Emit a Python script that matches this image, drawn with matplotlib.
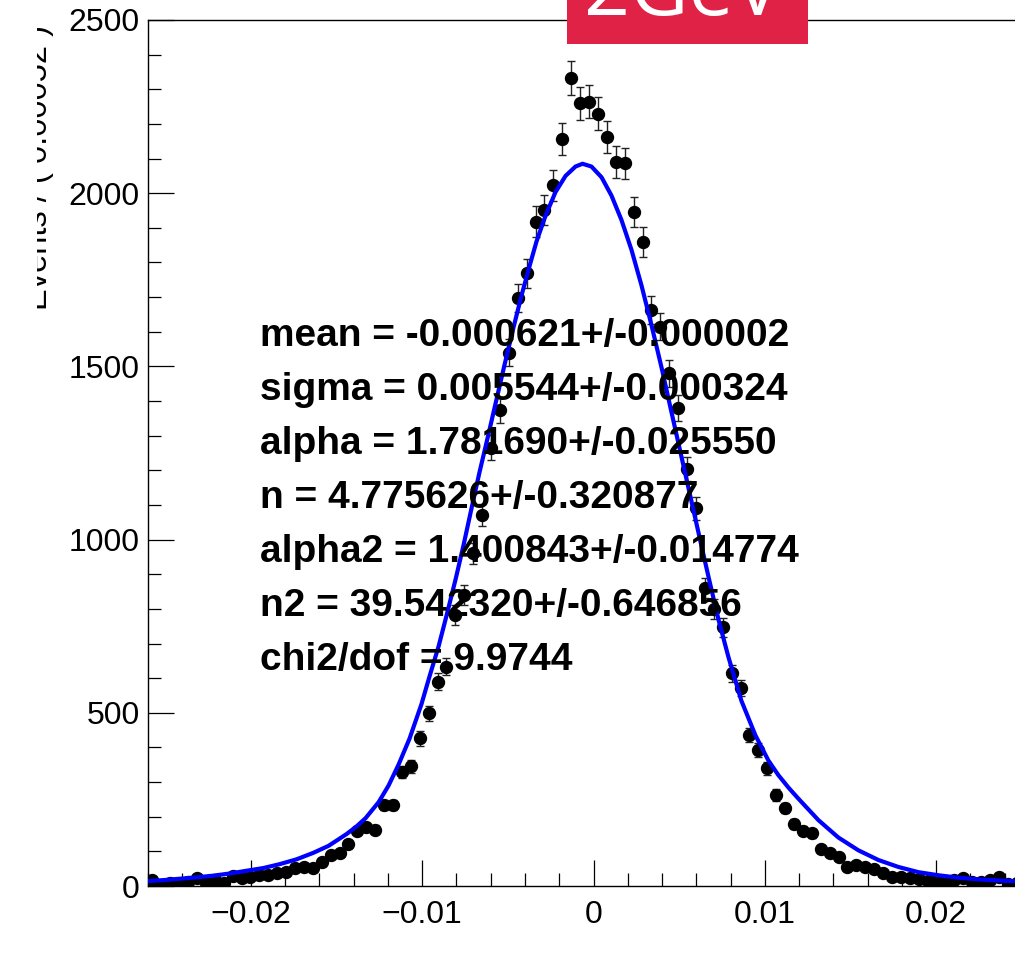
import numpy as np
import matplotlib.pyplot as plt
from matplotlib.patches import Rectangle
from matplotlib.ticker import MultipleLocator

plt.rcParams['font.family'] = ['Liberation Sans', 'DejaVu Sans']

# histogram: 100 bins over [-0.026, 0.026]
x_min, x_max, n_bins = -0.026, 0.026, 100
counts = [17, 3, 9, 5, 12, 23, 9, 17, 9, 29,
          23, 27, 31, 31, 37, 40, 52, 56, 52, 70,
          89, 95, 121, 160, 170, 162, 234, 234, 329, 345,
          426, 498, 590, 633, 782, 840, 960, 1071, 1265, 1374,
          1540, 1697, 1769, 1918, 1951, 2023, 2157, 2332, 2259, 2264,
          2230, 2163, 2091, 2086, 1946, 1860, 1663, 1615, 1480, 1379,
          1203, 1090, 860, 800, 747, 614, 571, 436, 393, 340,
          263, 226, 179, 160, 152, 106, 94, 85, 56, 61,
          56, 48, 38, 27, 25, 22, 19, 15, 16, 8,
          16, 22, 12, 12, 16, 25, 6, 10, 8, 5]

# fit curve
curve_x = [-0.02608, -0.02509, -0.02415, -0.02316, -0.02217, -0.02124, -0.02025, -0.01925,
           -0.01832, -0.01733, -0.01634, -0.01546, -0.01441, -0.01383, -0.01330, -0.01254,
           -0.01196, -0.01138, -0.01074, -0.01004, -0.00957, -0.00904, -0.00858, -0.00805,
           -0.00758, -0.00712, -0.00665, -0.00613, -0.00566, -0.00519, -0.00467, -0.00420,
           -0.00373, -0.00333, -0.00280, -0.00222, -0.00163, -0.00105, -0.00064, -0.00012,
           0.00047, 0.00105, 0.00163, 0.00222, 0.00280, 0.00338, 0.00397, 0.00455,
           0.00513, 0.00572, 0.00630, 0.00677, 0.00729, 0.00788, 0.00863, 0.00945,
           0.01021, 0.01079, 0.01138, 0.01196, 0.01313, 0.01429, 0.01546, 0.01663,
           0.01779, 0.01896, 0.02013, 0.02130, 0.02246, 0.02363, 0.02450, 0.02600]
curve_y = [14, 17, 21, 25, 30, 36, 44, 52,
           63, 77, 96, 116, 150, 172, 196, 242,
           290, 350, 425, 525, 605, 692, 780, 885,
           985, 1090, 1195, 1304, 1405, 1505, 1612, 1705,
           1790, 1860, 1935, 2003, 2050, 2077, 2085, 2077,
           2046, 1993, 1923, 1836, 1734, 1620, 1497, 1368,
           1240, 1110, 982, 880, 770, 660, 535, 435,
           362, 320, 284, 252, 190, 140, 103, 75,
           55, 40, 31, 24, 19, 16, 14, 12]

fit_lines = ["mean = -0.000621+/-0.000002",
             "sigma = 0.005544+/-0.000324",
             "alpha = 1.781690+/-0.025550",
             "n = 4.775626+/-0.320877",
             "alpha2 = 1.400843+/-0.014774",
             "n2 = 39.542320+/-0.646856",
             "chi2/dof = 9.9744"]

edges = np.linspace(x_min, x_max, n_bins + 1)
centers = 0.5 * (edges[:-1] + edges[1:])
counts = np.array(counts, dtype=float)

W, H = 1015, 961
fig = plt.figure(figsize=(W / 100, H / 100), dpi=100)
ax = fig.add_axes([148 / W, 75 / H, 891 / W, 866 / H])

ax.errorbar(centers, counts, yerr=np.sqrt(counts), fmt='o', color='black',
            ms=8.6, elinewidth=1.0, capsize=3, capthick=1.0, ecolor='#222222', zorder=3)
ax.plot(curve_x, curve_y, color='#0000ff', lw=3.0, zorder=4, solid_joinstyle='round')

ax.set_xlim(x_min, x_max)
ax.set_ylim(0, 2500)
ax.xaxis.set_major_locator(MultipleLocator(0.01))
ax.xaxis.set_minor_locator(MultipleLocator(0.002))
ax.yaxis.set_major_locator(MultipleLocator(500))
ax.yaxis.set_minor_locator(MultipleLocator(100))
ax.tick_params(which='both', direction='in', width=0.9, labelsize=23, colors='black')
ax.tick_params(which='major', length=19)
ax.tick_params(which='minor', length=9.5)
ax.tick_params(axis='x', pad=10)
ax.tick_params(axis='y', pad=6)
ax.xaxis.set_major_formatter(plt.FuncFormatter(lambda v, p: "0" if abs(v) < 1e-9 else f"{v:g}".replace("-", "\u2212")))
for s in ax.spines.values():
    s.set_linewidth(1.0)

for k, line in enumerate(fit_lines):
    fig.text(260 / W, 1 - (346 + 54 * k) / H, line, fontsize=28, fontweight='bold',
             ha='left', va='baseline', zorder=10)

# y title, partly cut at the left edge of the picture
fig.text(54 / W, 1 - 25 / H, "Events / ( 0.00052 )", rotation=90, fontsize=23.5,
         ha='right', va='top')
fig.patches.append(Rectangle((0, 0), 37 / W, 1, transform=fig.transFigure,
                             facecolor='white', edgecolor='none', zorder=20))

# red label box at the top
fig.patches.append(Rectangle((567 / W, 1 - 44 / H), 241 / W, 44 / H, transform=fig.transFigure,
                             facecolor='#e02247', edgecolor='none', zorder=5))
fig.text(683 / W, 1 - 15 / H, "2GeV", color='white', fontsize=58, fontfamily='Open Sans',
         ha='center', va='baseline', zorder=6)

fig.savefig("out.png", dpi=100)
